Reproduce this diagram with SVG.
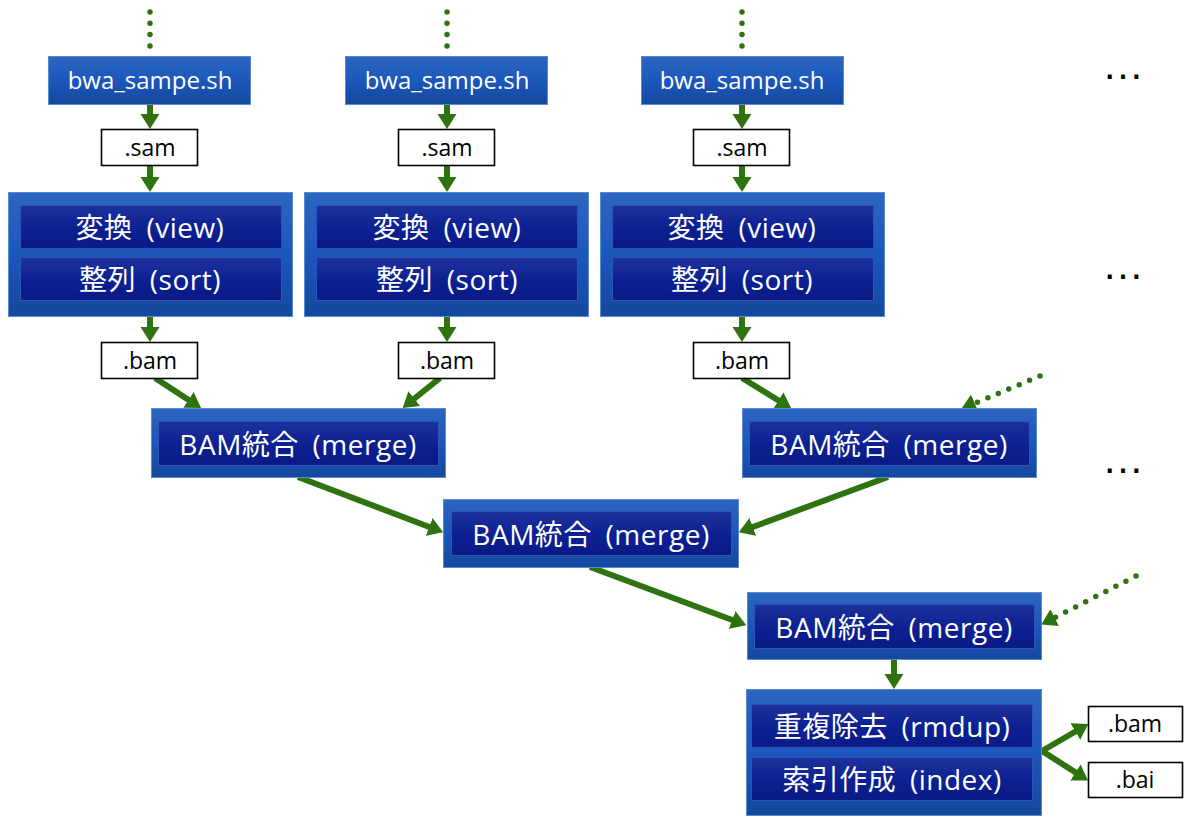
<svg xmlns="http://www.w3.org/2000/svg" width="1184" height="816" viewBox="0 0 1184 816">
<defs>
<linearGradient id="gOuter" x1="0" y1="0" x2="0" y2="1">
<stop offset="0" stop-color="#2b66bf"/>
<stop offset="0.5" stop-color="#1c57bd"/>
<stop offset="1" stop-color="#13489c"/>
</linearGradient>
<linearGradient id="gInner" x1="0" y1="0" x2="0" y2="1">
<stop offset="0" stop-color="#1e329c"/>
<stop offset="0.5" stop-color="#0d2193"/>
<stop offset="1" stop-color="#0a1a86"/>
</linearGradient>
<marker id="ah" markerUnits="userSpaceOnUse" markerWidth="20" markerHeight="20" refX="3" refY="9.5" orient="auto">
<path d="M0,0 L15,9.5 L0,19 z" fill="#2e7310"/>
</marker>
</defs>
<style>
.outer{fill:url(#gOuter);stroke:#5a8ad4;stroke-width:1}
.inner{fill:url(#gInner);stroke:#2d52b8;stroke-width:1}
.file{fill:#ffffff;stroke:#000000;stroke-width:1.6}
.wt{font-family:"Open Sans","Noto Sans CJK JP",sans-serif;fill:#ffffff;text-anchor:middle}
.lb{font-size:28px;word-spacing:6px;letter-spacing:0.5px}
.bt{font-family:"Open Sans","Noto Sans CJK JP",sans-serif;fill:#000000;text-anchor:middle;font-size:23px}
.conn{stroke:#2e7310;stroke-width:6;fill:none;marker-end:url(#ah)}
.dots{stroke:#2e7310;stroke-width:5.5;fill:none;stroke-linecap:round;stroke-dasharray:0 11.3}
.dotsa{stroke:#2e7310;stroke-width:5.5;fill:none;stroke-linecap:round;stroke-dasharray:0 11.3;marker-end:url(#ah)}
.ell{font-family:"Liberation Sans",sans-serif;font-size:42px;fill:#000000;text-anchor:middle}
</style>
<rect width="1184" height="816" fill="#ffffff"/>

<g id="connectors">
<line class="dots" x1="150" y1="12" x2="150" y2="46"/>
<line class="dots" x1="447" y1="12" x2="447" y2="46"/>
<line class="dots" x1="742" y1="12" x2="742" y2="46"/>
<line class="conn" x1="150" y1="105" x2="150" y2="117"/>
<line class="conn" x1="150" y1="166" x2="150" y2="180"/>
<line class="conn" x1="150" y1="316" x2="150" y2="330"/>
<line class="conn" x1="447" y1="105" x2="447" y2="117"/>
<line class="conn" x1="447" y1="166" x2="447" y2="180"/>
<line class="conn" x1="447" y1="316" x2="447" y2="330"/>
<line class="conn" x1="742" y1="105" x2="742" y2="117"/>
<line class="conn" x1="742" y1="166" x2="742" y2="180"/>
<line class="conn" x1="742" y1="316" x2="742" y2="330"/>
<line class="conn" x1="155" y1="378" x2="191" y2="401.5"/>
<line class="conn" x1="440" y1="378" x2="412" y2="400.5"/>
<line class="conn" x1="742" y1="378" x2="781" y2="402"/>
<line class="dotsa" x1="1040" y1="376" x2="972" y2="404.5"/>
<line class="conn" x1="298" y1="477" x2="432" y2="528"/>
<line class="conn" x1="888" y1="477" x2="750" y2="528"/>
<line class="conn" x1="590" y1="567" x2="735" y2="621"/>
<line class="dotsa" x1="1136" y1="576" x2="1052" y2="619"/>
<line class="conn" x1="894" y1="660" x2="894" y2="677"/>
<line class="conn" x1="1042" y1="751" x2="1078" y2="730"/>
<line class="conn" x1="1042" y1="751" x2="1078" y2="774"/>
</g>

<g id="bwa1"><rect class="outer" x="48.5" y="56.5" width="202" height="48"/><text class="wt" x="150" y="89" font-size="24">bwa_sampe.sh</text></g>
<g id="bwa2"><rect class="outer" x="345.5" y="56.5" width="202" height="48"/><text class="wt" x="447" y="89" font-size="24">bwa_sampe.sh</text></g>
<g id="bwa3"><rect class="outer" x="641.5" y="56.5" width="202" height="48"/><text class="wt" x="742" y="89" font-size="24">bwa_sampe.sh</text></g>

<g id="sam1"><rect class="file" x="101.5" y="129.5" width="96" height="36"/><text class="bt" x="150" y="156">.sam</text></g>
<g id="sam2"><rect class="file" x="398.5" y="129.5" width="96" height="36"/><text class="bt" x="447" y="156">.sam</text></g>
<g id="sam3"><rect class="file" x="693.5" y="129.5" width="96" height="36"/><text class="bt" x="742" y="156">.sam</text></g>

<g id="proc1">
<rect class="outer" x="8.5" y="192.5" width="284" height="124"/>
<rect class="inner" x="20.5" y="205.5" width="261" height="43"/>
<rect class="inner" x="20.5" y="257.5" width="261" height="43"/>
<text class="wt lb" x="150" y="238">変換 (view)</text>
<text class="wt lb" x="150" y="290">整列 (sort)</text>
</g>
<g id="proc2">
<rect class="outer" x="304.5" y="192.5" width="284" height="124"/>
<rect class="inner" x="316.5" y="205.5" width="261" height="43"/>
<rect class="inner" x="316.5" y="257.5" width="261" height="43"/>
<text class="wt lb" x="447" y="238">変換 (view)</text>
<text class="wt lb" x="447" y="290">整列 (sort)</text>
</g>
<g id="proc3">
<rect class="outer" x="600.5" y="192.5" width="284" height="124"/>
<rect class="inner" x="612.5" y="205.5" width="261" height="43"/>
<rect class="inner" x="612.5" y="257.5" width="261" height="43"/>
<text class="wt lb" x="742" y="238">変換 (view)</text>
<text class="wt lb" x="742" y="290">整列 (sort)</text>
</g>

<g id="bam1"><rect class="file" x="101.5" y="342.5" width="96" height="36"/><text class="bt" x="150" y="369">.bam</text></g>
<g id="bam2"><rect class="file" x="398.5" y="342.5" width="96" height="36"/><text class="bt" x="447" y="369">.bam</text></g>
<g id="bam3"><rect class="file" x="693.5" y="342.5" width="96" height="36"/><text class="bt" x="742" y="369">.bam</text></g>

<g id="merge1">
<rect class="outer" x="151.5" y="408.5" width="294" height="69"/>
<rect class="inner" x="158.5" y="421.5" width="280" height="44"/>
<text class="wt lb" x="298" y="455">BAM統合 (merge)</text>
</g>
<g id="merge2">
<rect class="outer" x="742.5" y="408.5" width="294" height="69"/>
<rect class="inner" x="749.5" y="421.5" width="280" height="44"/>
<text class="wt lb" x="889" y="455">BAM統合 (merge)</text>
</g>
<g id="merge3">
<rect class="outer" x="443.5" y="499.5" width="295" height="68"/>
<rect class="inner" x="451.5" y="511.5" width="280" height="44"/>
<text class="wt lb" x="591" y="545">BAM統合 (merge)</text>
</g>
<g id="merge4">
<rect class="outer" x="747.5" y="592.5" width="294" height="67"/>
<rect class="inner" x="754.5" y="604.5" width="280" height="44"/>
<text class="wt lb" x="894" y="638">BAM統合 (merge)</text>
</g>

<g id="final">
<rect class="outer" x="746.5" y="689.5" width="295" height="126"/>
<rect class="inner" x="751.5" y="704.5" width="281" height="43"/>
<rect class="inner" x="751.5" y="757.5" width="281" height="43"/>
<text class="wt lb" x="892" y="737">重複除去 (rmdup)</text>
<text class="wt lb" x="892" y="790">索引作成 (index)</text>
</g>

<g id="outbam"><rect class="file" x="1088.5" y="706.5" width="94" height="35"/><text class="bt" x="1135" y="732">.bam</text></g>
<g id="outbai"><rect class="file" x="1088.5" y="762.5" width="94" height="35"/><text class="bt" x="1135" y="788">.bai</text></g>

<g id="ellipses">
<text class="ell" x="1123" y="79">…</text>
<text class="ell" x="1123" y="279">…</text>
<text class="ell" x="1123" y="473">…</text>
</g>
</svg>
